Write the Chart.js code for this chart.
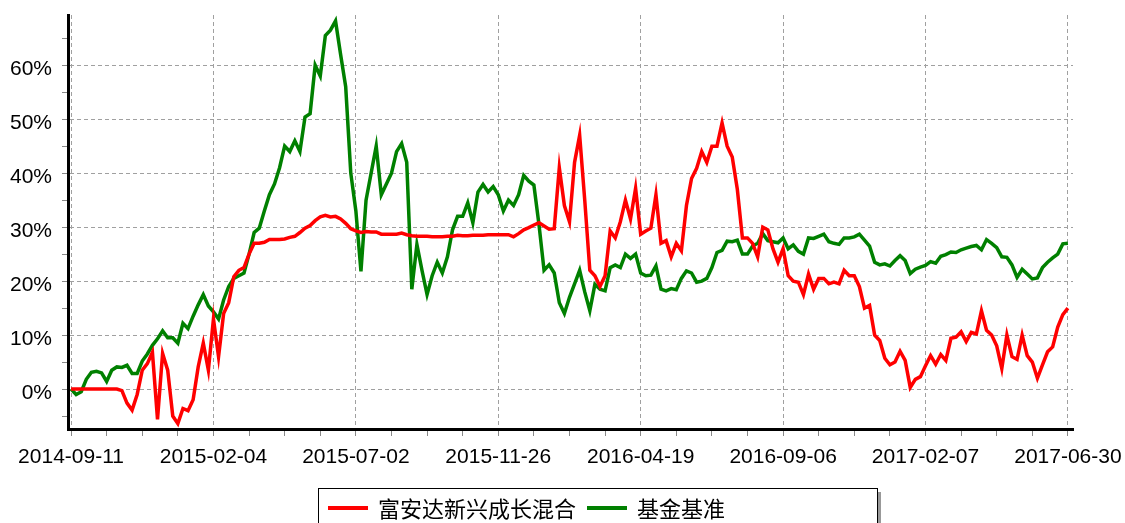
<!DOCTYPE html>
<html>
<head>
<meta charset="utf-8">
<script src="https://cdn.jsdelivr.net/npm/chart.js@4.4.1/dist/chart.umd.min.js"></script>
<style>
  html, body { margin: 0; padding: 0; background: #fff; }
</style>
</head>
<body>
<canvas id="chart" width="1125" height="523"></canvas>
<script>
// x axis: one label every 28 samples, minor tick every 7
const tickLabels = ['2014-09-11', '2015-02-04', '2015-07-02', '2015-11-26', '2016-04-19', '2016-09-06', '2017-02-07', '2017-06-30'];
const seriesNames = ['富安达新兴成长混合', '基金基准'];
const seriesColors = ['#ff0000', '#008000'];
const samplesPerLabel = 28;

// cumulative return, %
const fundValues = [
  0, 0, 0, 0, 0, 0, 0, 0, 0, 0,
  -0.3, -2.6, -3.9, -1.0, 3.5, 4.7, 6.8, -5.6, 6.6, 3.5,
  -5.0, -6.4, -3.6, -4.0, -2.0, 4.1, 8.5, 3.5, 13, 6.0,
  14, 16, 20.8, 22, 22.5, 25,
  27, 27, 27.2, 27.7, 27.7, 27.7, 27.8, 28.1, 28.3, 29,
  29.8, 30.3, 31.2, 31.9, 32.2, 31.9, 32, 31.5, 30.7, 29.7,
  29.3, 29, 29.2, 29.1, 29.1, 28.7, 28.7, 28.7, 28.7,
  28.9, 28.6, 28.4, 28.3, 28.3, 28.3, 28.2, 28.2, 28.2, 28.3,
  28.3, 28.5, 28.4, 28.4, 28.5, 28.5, 28.5, 28.6, 28.6, 28.6,
  28.6, 28.6, 28.2,
  28.8, 29.5, 29.9, 30.4, 30.8, 30.2, 29.6, 29.7, 41,
  34, 31, 42, 47, 35, 22, 21, 19, 21, 29.3,
  28, 31, 35, 31.5, 37.2, 28.7, 29.3, 29.8, 36, 27,
  27.5, 24.5, 27, 25.6, 34, 39, 40.9, 44, 42, 45,
  45, 49.3, 45,
  43, 37, 28, 28, 27, 24.5, 30, 29.5, 26, 23.5,
  26, 21, 20, 19.8, 17.5, 21.3, 18.5, 20.5, 20.5, 19.5,
  19.8, 19.5, 22, 21, 21, 19, 15, 15.5, 10, 9, 5.7, 4.5,
  5, 7, 5.3, 0.3, 1.8, 2.3, 4.3, 6.2, 4.6, 6.4,
  5.3, 9.4, 9.6, 10.6, 8.8, 10.5, 10.2, 14.5, 10.9, 10,
  8, 3.8, 10, 6, 5.5, 10, 6.2, 5, 2, 4.5,
  6.9, 7.8, 11.5, 13.8, 15
];
const benchValues = [
  0, -1.0, -0.5, 1.8, 3.1, 3.3, 3.0, 1.4, 3.5, 4.1,
  4.0, 4.4, 2.9, 2.9, 5.2, 6.5, 8.1, 9.3, 10.8, 9.5,
  9.5, 8.5, 12.2, 11.2, 13.5, 15.6, 17.5, 15.4, 14.3, 13.0,
  16.5, 19, 20.5, 21, 21.5, 25,
  29, 29.8, 33, 36, 38, 41, 45, 44, 46, 44,
  50.4, 51, 60, 58, 65.5, 66.5, 68.2, 62, 56, 40,
  33, 21.8, 35, 40, 45, 36, 38, 40, 44,
  45.5, 42, 18.5, 26.8, 22, 17.5, 21, 23.5, 21.5, 24.5,
  29.5, 32, 32, 34.5, 30.8, 36.5, 37.9, 36.5, 37.5, 36,
  33, 35, 34,
  36, 39.6, 38.5, 37.8, 30.5, 22, 23, 21.5, 16,
  14, 17, 19.5, 22, 18, 14.5, 19.4, 18.5, 18.2, 22.5,
  23, 22.5, 25, 24.2, 25, 21.5, 21, 21.1, 22.8, 18.5,
  18.2, 18.6, 18.4, 20.5, 21.9, 21.5, 19.8, 20, 20.5, 22.5,
  25.3, 25.7, 27.4,
  27.3, 27.6, 25, 25, 26.5, 27, 28.8, 27.5, 27.3, 27.1,
  28, 26, 26.7, 25.5, 25, 28, 27.9, 28.3, 28.7, 27.3,
  27, 26.8, 28, 28, 28.2, 28.7, 27.6, 26.5, 23.5, 23, 23.2, 22.8,
  23.8, 24.7, 23.8, 21.4, 22.2, 22.6, 22.9, 23.6, 23.3, 24.6,
  24.9, 25.4, 25.3, 25.8, 26.1, 26.4, 26.6, 25.8, 27.7, 27,
  26.2, 24.5, 24.4, 23, 20.7, 22.2, 21.3, 20.4, 20.6, 22.5,
  23.5, 24.3, 25, 26.9, 27
];

const GRID = '#a0a0a0';
Chart.defaults.font.family = '"Liberation Sans", Arial, sans-serif';
Chart.defaults.color = '#000';

const toPoints = (arr) => arr.map((v, i) => ({ x: i, y: v }));

// legend drawn as a framed box under the axis
const boxLegend = {
  id: 'boxLegend',
  afterDraw(chart) {
    const ctx = chart.ctx;
    ctx.save();
    ctx.fillStyle = '#999';
    ctx.fillRect(878, 492, 3, 40);
    ctx.strokeStyle = '#000';
    ctx.lineWidth = 1;
    ctx.strokeRect(318.5, 488.5, 559, 40);
    ctx.font = '22px "Noto Sans CJK SC"';
    ctx.textBaseline = 'middle';
    let x = 328;
    chart.data.datasets.forEach((ds) => {
      ctx.strokeStyle = ds.borderColor;
      ctx.lineWidth = 4;
      ctx.beginPath();
      ctx.moveTo(x, 508);
      ctx.lineTo(x + 40, 508);
      ctx.stroke();
      ctx.fillStyle = '#000';
      ctx.fillText(ds.label, x + 50, 509);
      x += 50 + ctx.measureText(ds.label).width + 11;
    });
    ctx.restore();
  }
};

new Chart(document.getElementById('chart'), {
  type: 'line',
  plugins: [boxLegend],
  data: {
    datasets: [
      { label: seriesNames[0], data: toPoints(fundValues), borderColor: seriesColors[0], backgroundColor: seriesColors[0] },
      { label: seriesNames[1], data: toPoints(benchValues), borderColor: seriesColors[1], backgroundColor: seriesColors[1] },
    ],
  },
  options: {
    responsive: false,
    animation: false,
    layout: { padding: { top: 15, right: 52, left: 0, bottom: 0 } },
    elements: {
      line: { borderWidth: 3.5, tension: 0, fill: false },
      point: { radius: 0 },
    },
    plugins: {
      legend: { display: false },
      tooltip: { enabled: false },
    },
    scales: {
      x: {
        type: 'linear',
        min: -0.6,
        max: 197,
        afterBuildTicks: (scale) => {
          const t = [];
          for (let v = 0; v <= (tickLabels.length - 1) * samplesPerLabel; v += 7) t.push({ value: v });
          scale.ticks = t;
        },
        afterFit: (scale) => {
          scale.height = 94;
          scale.paddingLeft = 0;
          scale.paddingRight = 0;
        },
        ticks: {
          autoSkip: false,
          maxRotation: 0,
          padding: 9,
          font: { size: 21 },
          callback: (v) => (v % samplesPerLabel === 0 ? tickLabels[v / samplesPerLabel] : ''),
        },
        grid: {
          color: (c) => (c.tick && c.tick.value % samplesPerLabel === 0 ? GRID : 'transparent'),
          tickColor: '#888',
          tickLength: 7,
          lineWidth: 1,
        },
        border: { display: true, color: '#000', width: 3, dash: [4, 3] },
      },
      y: {
        min: -7.4,
        max: 69.3,
        afterBuildTicks: (scale) => {
          const t = [];
          for (let k = -2; k <= 27; k++) t.push({ value: k * 2.5 });
          scale.ticks = t;
        },
        afterFit: (scale) => {
          scale.width = 68;
          scale.paddingTop = 0;
          scale.paddingBottom = 0;
        },
        ticks: {
          padding: 10,
          labelOffset: 4,
          font: { size: 21 },
          callback: (v) => (Math.round(v * 10) % 100 === 0 ? Math.round(v) + '%' : ''),
        },
        grid: {
          color: (c) => (c.tick && Math.round(c.tick.value * 10) % 100 === 0 ? GRID : 'transparent'),
          tickColor: '#888',
          tickLength: 6,
          lineWidth: 1,
        },
        border: { display: true, color: '#000', width: 3, dash: [4, 3] },
      },
    },
  },
});
</script>
</body>
</html>
